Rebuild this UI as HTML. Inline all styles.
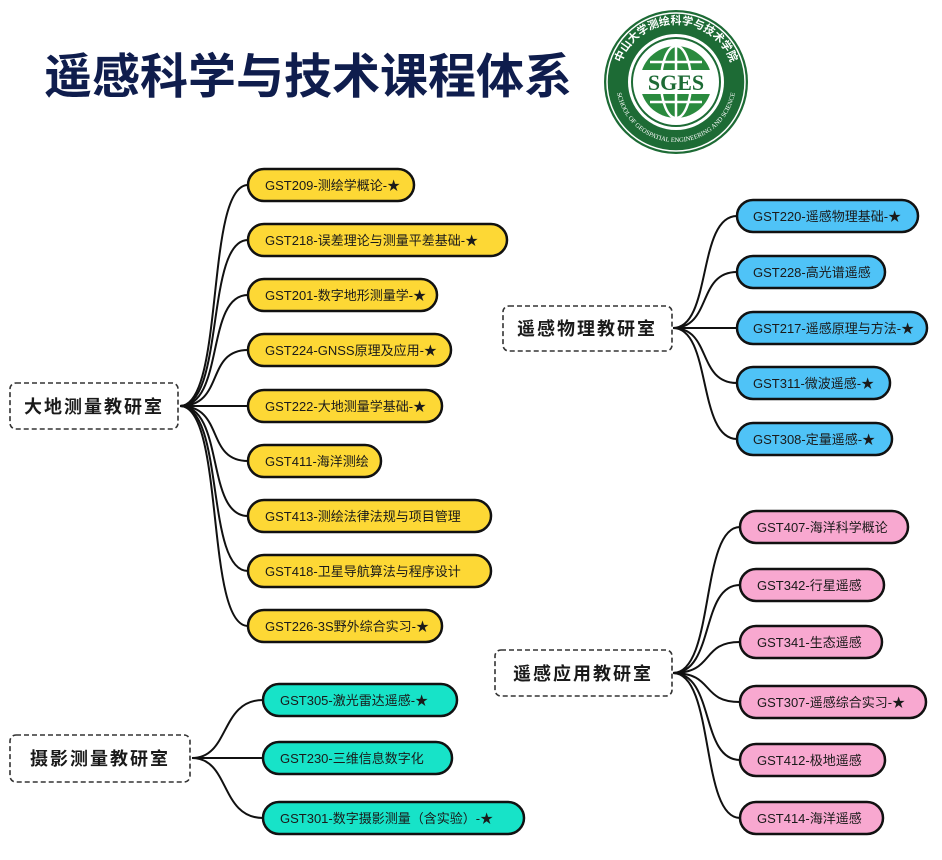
<!DOCTYPE html>
<html><head><meta charset="utf-8"><style>
html,body{margin:0;padding:0;background:#fff;width:942px;height:860px;overflow:hidden}
svg{display:block}
text{font-family:"Liberation Sans","Noto Sans CJK SC",sans-serif}
.p{font-size:13px;fill:#1a1a1a}
.r{font-size:18px;font-weight:bold;fill:#1a1a1a;letter-spacing:2px}
.c{fill:none;stroke:#111;stroke-width:2}
.pill{stroke:#111;stroke-width:2.5}
.box{fill:#fff;stroke:#333;stroke-width:1.6;stroke-dasharray:5 3}
</style></head><body>
<svg width="942" height="860" viewBox="0 0 942 860" xmlns="http://www.w3.org/2000/svg">
<text x="44" y="93" style="font-size:48px;font-weight:bold;fill:#0f1d4d;font-family:'Liberation Sans','Noto Sans CJK SC',sans-serif">遥感科学与技术课程体系</text>

<!-- logo -->
<g>
<circle cx="676" cy="82" r="72" fill="#1d6b35"/>
<circle cx="676" cy="82" r="69" fill="none" stroke="#fff" stroke-width="1.5"/>
<circle cx="676" cy="82" r="48" fill="#fff"/>
<circle cx="676" cy="82" r="44" fill="none" stroke="#1d6b35" stroke-width="2"/>
<circle cx="676" cy="82" r="36" fill="#2a8a3e"/>
<path d="M640,82 H712 M676,46 V118 M650,62 H702 M650,102 H702" stroke="#fff" stroke-width="2.5" fill="none"/>
<ellipse cx="676" cy="82" rx="15" ry="36" fill="none" stroke="#fff" stroke-width="2.5"/>
<rect x="638" y="70" width="76" height="24" fill="#fff"/>
<text x="676" y="90" text-anchor="middle" style="font-family:'Liberation Serif',serif;font-size:22px;font-weight:bold;fill:#1d6b35">SGES</text>
<defs><path id="ta" d="M618,82 A58,58 0 0 1 734,82"/><path id="tb" d="M616,82 A60,60 0 0 0 736,82"/></defs>
<text style="font-size:11px;font-weight:bold;fill:#fff"><textPath href="#ta" startOffset="50%" text-anchor="middle">中山大学测绘科学与技术学院</textPath></text>
<text style="font-family:'Liberation Serif',serif;font-size:6.5px;fill:#fff"><textPath href="#tb" startOffset="50%" text-anchor="middle">SCHOOL OF GEOSPATIAL ENGINEERING AND SCIENCE</textPath></text>
</g>

<!-- connectors -->
<g class="c">
<path d="M180,406 C225,406 205,185 248,185"/>
<path d="M180,406 C225,406 205,240 248,240"/>
<path d="M180,406 C225,406 205,295 248,295"/>
<path d="M180,406 C225,406 205,350 248,350"/>
<path d="M180,406 L248,406"/>
<path d="M180,406 C225,406 205,461 248,461"/>
<path d="M180,406 C225,406 205,516 248,516"/>
<path d="M180,406 C225,406 205,571 248,571"/>
<path d="M180,406 C225,406 205,626 248,626"/>

<path d="M192,758 C230,758 220,700 263,700"/>
<path d="M192,758 L263,758"/>
<path d="M192,758 C230,758 220,818 263,818"/>

<path d="M673,328 C712,328 697,216 737,216"/>
<path d="M673,328 C712,328 697,272 737,272"/>
<path d="M673,328 L737,328"/>
<path d="M673,328 C712,328 697,383 737,383"/>
<path d="M673,328 C712,328 697,439 737,439"/>

<path d="M673,673 C715,673 700,527 740,527"/>
<path d="M673,673 C715,673 700,585 740,585"/>
<path d="M673,673 C715,673 700,642 740,642"/>
<path d="M673,673 C715,673 700,702 740,702"/>
<path d="M673,673 C715,673 700,760 740,760"/>
<path d="M673,673 C715,673 700,818 740,818"/>
</g>

<!-- roots -->
<rect class="box" x="10" y="383" width="168" height="46" rx="6"/>
<text class="r" x="94" y="413" text-anchor="middle">大地测量教研室</text>
<rect class="box" x="10" y="735" width="180" height="47" rx="6"/>
<text class="r" x="100" y="765" text-anchor="middle">摄影测量教研室</text>
<rect class="box" x="503" y="306" width="169" height="45" rx="6"/>
<text class="r" x="587" y="335" text-anchor="middle">遥感物理教研室</text>
<rect class="box" x="495" y="650" width="177" height="46" rx="6"/>
<text class="r" x="583" y="680" text-anchor="middle">遥感应用教研室</text>

<!-- yellow -->
<g fill="#fdd835">
<rect class="pill" x="248" y="169" width="166" height="32" rx="16"/>
<rect class="pill" x="248" y="224" width="259" height="32" rx="16"/>
<rect class="pill" x="248" y="279" width="189" height="32" rx="16"/>
<rect class="pill" x="248" y="334" width="203" height="32" rx="16"/>
<rect class="pill" x="248" y="390" width="194" height="32" rx="16"/>
<rect class="pill" x="248" y="445" width="133" height="32" rx="16"/>
<rect class="pill" x="248" y="500" width="243" height="32" rx="16"/>
<rect class="pill" x="248" y="555" width="243" height="32" rx="16"/>
<rect class="pill" x="248" y="610" width="194" height="32" rx="16"/>
</g>
<g class="p">
<text x="265" y="190">GST209-测绘学概论-★</text>
<text x="265" y="245">GST218-误差理论与测量平差基础-★</text>
<text x="265" y="300">GST201-数字地形测量学-★</text>
<text x="265" y="355">GST224-GNSS原理及应用-★</text>
<text x="265" y="411">GST222-大地测量学基础-★</text>
<text x="265" y="466">GST411-海洋测绘</text>
<text x="265" y="521">GST413-测绘法律法规与项目管理</text>
<text x="265" y="576">GST418-卫星导航算法与程序设计</text>
<text x="265" y="631">GST226-3S野外综合实习-★</text>
</g>

<!-- cyan -->
<g fill="#17e3c8">
<rect class="pill" x="263" y="684" width="194" height="32" rx="16"/>
<rect class="pill" x="263" y="742" width="189" height="32" rx="16"/>
<rect class="pill" x="263" y="802" width="261" height="32" rx="16"/>
</g>
<g class="p">
<text x="280" y="705">GST305-激光雷达遥感-★</text>
<text x="280" y="763">GST230-三维信息数字化</text>
<text x="280" y="823">GST301-数字摄影测量（含实验）-★</text>
</g>

<!-- blue -->
<g fill="#4fc3f7">
<rect class="pill" x="737" y="200" width="181" height="32" rx="16"/>
<rect class="pill" x="737" y="256" width="148" height="32" rx="16"/>
<rect class="pill" x="737" y="312" width="190" height="32" rx="16"/>
<rect class="pill" x="737" y="367" width="153" height="32" rx="16"/>
<rect class="pill" x="737" y="423" width="155" height="32" rx="16"/>
</g>
<g class="p">
<text x="753" y="221">GST220-遥感物理基础-★</text>
<text x="753" y="277">GST228-高光谱遥感</text>
<text x="753" y="333">GST217-遥感原理与方法-★</text>
<text x="753" y="388">GST311-微波遥感-★</text>
<text x="753" y="444">GST308-定量遥感-★</text>
</g>

<!-- pink -->
<g fill="#f8a8d0">
<rect class="pill" x="740" y="511" width="168" height="32" rx="16"/>
<rect class="pill" x="740" y="569" width="144" height="32" rx="16"/>
<rect class="pill" x="740" y="626" width="142" height="32" rx="16"/>
<rect class="pill" x="740" y="686" width="186" height="32" rx="16"/>
<rect class="pill" x="740" y="744" width="145" height="32" rx="16"/>
<rect class="pill" x="740" y="802" width="143" height="32" rx="16"/>
</g>
<g class="p">
<text x="757" y="532">GST407-海洋科学概论</text>
<text x="757" y="590">GST342-行星遥感</text>
<text x="757" y="647">GST341-生态遥感</text>
<text x="757" y="707">GST307-遥感综合实习-★</text>
<text x="757" y="765">GST412-极地遥感</text>
<text x="757" y="823">GST414-海洋遥感</text>
</g>
</svg>
</body></html>
